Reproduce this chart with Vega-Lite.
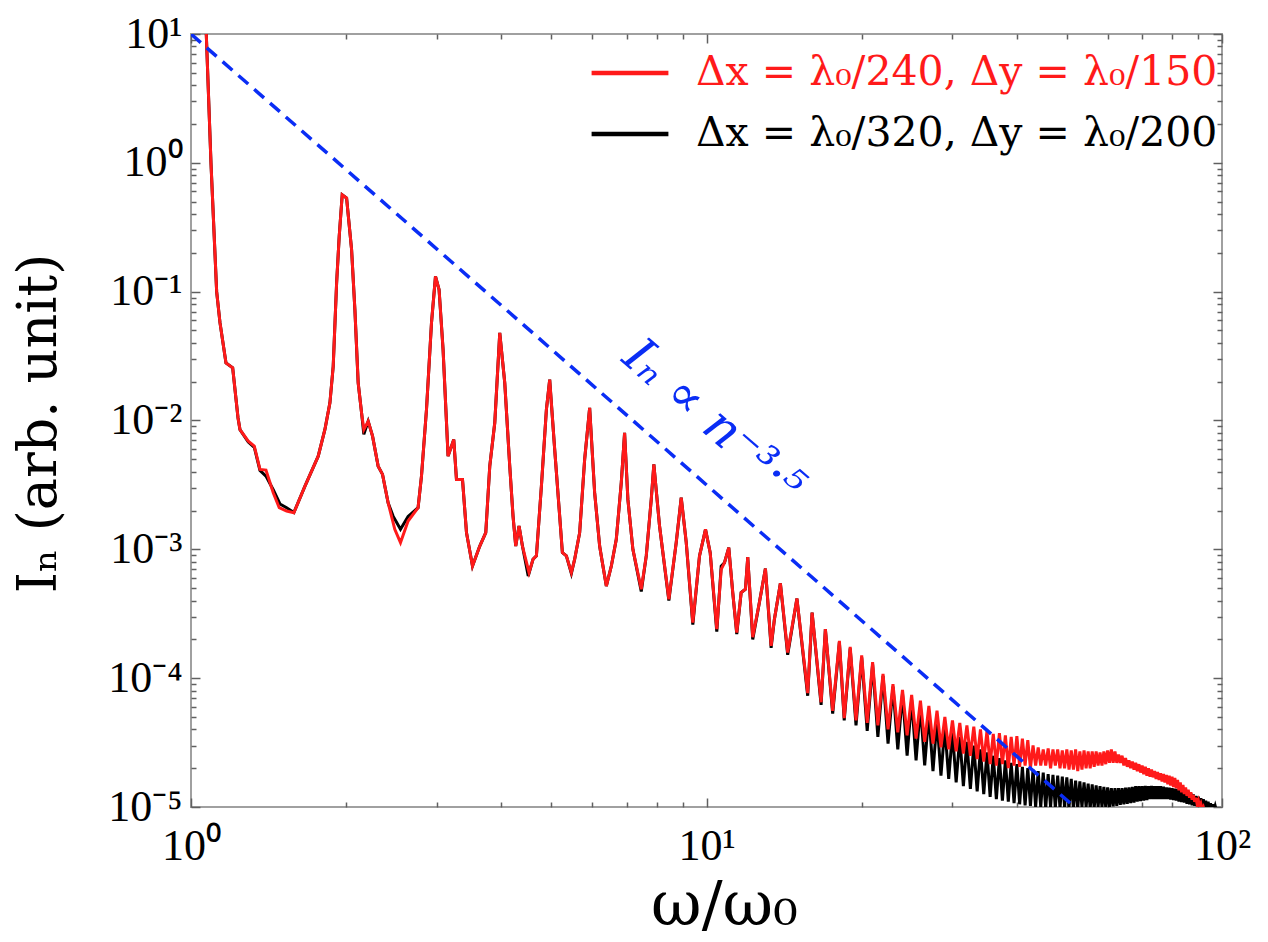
{
"$schema":"https://vega.github.io/schema/vega-lite/v6.json",
"width":1031,"height":773,
"autosize":{"type":"none"},
"padding":{"left":191,"top":34,"right":46,"bottom":135},
"background":"white",
"config":{"font":"Liberation Serif","view":{"stroke":"#a0a0a0","strokeWidth":2},"axis":{"grid":false,"domain":false}},
"datasets":{
"guide":[{"x":1,"y":10},{"x":51.79,"y":0.00001}],
"note":[{"label":"Iₙ ∝ n⁻³·⁵","x":10.3,"y":0.0098}],
"spectra":[
{"run":"coarse","x":1.06,"y":30},{"run":"coarse","x":1.0933,"y":1.0},{"run":"coarse","x":1.1214,"y":0.1},{"run":"coarse","x":1.1382,"y":0.0575},{"run":"coarse","x":1.1691,"y":0.028},{"run":"coarse","x":1.2046,"y":0.0256},{"run":"coarse","x":1.2336,"y":0.0105},{"run":"coarse","x":1.2445,"y":0.0085},{"run":"coarse","x":1.2915,"y":0.006911},{"run":"coarse","x":1.3266,"y":0.006325},{"run":"coarse","x":1.3608,"y":0.004172},{"run":"coarse","x":1.3977,"y":0.004119},{"run":"coarse","x":1.4439,"y":0.002751},{"run":"coarse","x":1.483,"y":0.002105},{"run":"coarse","x":1.5328,"y":0.001981},{"run":"coarse","x":1.5834,"y":0.001925},{"run":"coarse","x":1.6637,"y":0.003095},{"run":"coarse","x":1.7651,"y":0.005289},{"run":"coarse","x":1.8188,"y":0.008516},{"run":"coarse","x":1.8598,"y":0.01372},{"run":"coarse","x":1.8874,"y":0.02636},{"run":"coarse","x":1.9163,"y":0.1168},{"run":"coarse","x":1.9387,"y":0.2684},{"run":"coarse","x":1.9648,"y":0.5648},{"run":"coarse","x":2.0037,"y":0.5327},{"run":"coarse","x":2.0489,"y":0.2117},{"run":"coarse","x":2.0793,"y":0.07253},{"run":"coarse","x":2.1101,"y":0.0196},{"run":"coarse","x":2.1423,"y":0.01147},{"run":"coarse","x":2.164,"y":0.0085},{"run":"coarse","x":2.2064,"y":0.009876},{"run":"coarse","x":2.25,"y":0.007557},{"run":"coarse","x":2.3069,"y":0.004423},{"run":"coarse","x":2.3526,"y":0.003815},{"run":"coarse","x":2.412,"y":0.002301},{"run":"coarse","x":2.485,"y":0.001429},{"run":"coarse","x":2.5491,"y":0.001127},{"run":"coarse","x":2.6371,"y":0.001657},{"run":"coarse","x":2.7574,"y":0.002105},{"run":"coarse","x":2.7996,"y":0.0037},{"run":"coarse","x":2.863,"y":0.01217},{"run":"coarse","x":2.9276,"y":0.05718},{"run":"coarse","x":2.9803,"y":0.1315},{"run":"coarse","x":3.0286,"y":0.1036},{"run":"coarse","x":3.0832,"y":0.03552},{"run":"coarse","x":3.1527,"y":0.005289},{"run":"coarse","x":3.234,"y":0.007123},{"run":"coarse","x":3.2732,"y":0.003488},{"run":"coarse","x":3.3625,"y":0.003488},{"run":"coarse","x":3.4231,"y":0.001347},{"run":"coarse","x":3.516,"y":0.000742},{"run":"coarse","x":3.6324,"y":0.001061},{"run":"coarse","x":3.731,"y":0.001347},{"run":"coarse","x":3.7982,"y":0.004423},{"run":"coarse","x":3.8839,"y":0.0096},{"run":"coarse","x":3.9715,"y":0.04783},{"run":"coarse","x":4.0611,"y":0.0196},{"run":"coarse","x":4.1526,"y":0.004423},{"run":"coarse","x":4.2141,"y":0.001811},{"run":"coarse","x":4.2652,"y":0.001061},{"run":"coarse","x":4.3285,"y":0.001516},{"run":"coarse","x":4.3947,"y":0.001061},{"run":"coarse","x":4.526,"y":0.00066},{"run":"coarse","x":4.6075,"y":0.000838},{"run":"coarse","x":4.6778,"y":0.000889},{"run":"coarse","x":4.7833,"y":0.003095},{"run":"coarse","x":4.8912,"y":0.01217},{"run":"coarse","x":4.9638,"y":0.02078},{"run":"coarse","x":5.0758,"y":0.005958},{"run":"coarse","x":5.1903,"y":0.001811},{"run":"coarse","x":5.2531,"y":0.000943},{"run":"coarse","x":5.3477,"y":0.000889},{"run":"coarse","x":5.4683,"y":0.00066},{"run":"coarse","x":5.5495,"y":0.000838},{"run":"coarse","x":5.6747,"y":0.001347},{"run":"coarse","x":5.8028,"y":0.004985},{"run":"coarse","x":5.9337,"y":0.01254},{"run":"coarse","x":6.0676,"y":0.002751},{"run":"coarse","x":6.2045,"y":0.001061},{"run":"coarse","x":6.2966,"y":0.000742},{"run":"coarse","x":6.3928,"y":0.000519},{"run":"coarse","x":6.5372,"y":0.000742},{"run":"coarse","x":6.6834,"y":0.001195},{"run":"coarse","x":6.8342,"y":0.003289},{"run":"coarse","x":6.9358,"y":0.008031},{"run":"coarse","x":7.0388,"y":0.002441},{"run":"coarse","x":7.1976,"y":0.001},{"run":"coarse","x":7.4723,"y":0.00049},{"run":"coarse","x":7.6409,"y":0.000889},{"run":"coarse","x":7.8132,"y":0.002441},{"run":"coarse","x":7.9044,"y":0.004559},{"run":"coarse","x":8.108,"y":0.001516},{"run":"coarse","x":8.4521,"y":0.00041},{"run":"coarse","x":8.7357,"y":0.001133},{"run":"coarse","x":8.9327,"y":0.002517},{"run":"coarse","x":9.1342,"y":0.001133},{"run":"coarse","x":9.4071,"y":0.00027},{"run":"coarse","x":9.6924,"y":0.000889},{"run":"coarse","x":9.9554,"y":0.001429},{"run":"coarse","x":10.166,"y":0.000943},{"run":"coarse","x":10.47,"y":0.00024},{"run":"coarse","x":10.678,"y":0.0007},{"run":"coarse","x":10.836,"y":0.000788},{"run":"coarse","x":11.046,"y":0.00103},{"run":"coarse","x":11.244,"y":0.000462},{"run":"coarse","x":11.447,"y":0.000226},{"run":"coarse","x":11.674,"y":0.000462},{"run":"coarse","x":11.9,"y":0.00049},{"run":"coarse","x":12.023,"y":0.00087},{"run":"coarse","x":12.294,"y":0.000208},{"run":"coarse","x":12.667,"y":0.000388},{"run":"coarse","x":13.011,"y":0.000709},{"run":"coarse","x":13.346,"y":0.000178},{"run":"coarse","x":13.544,"y":0.000287},{"run":"coarse","x":13.911,"y":0.000545},{"run":"coarse","x":14.371,"y":0.000158},{"run":"coarse","x":14.976,"y":0.000415},{"run":"coarse","x":15.715,"y":0.0000765},{"run":"coarse","x":16.027,"y":0.000323},{"run":"coarse","x":16.684,"y":0.000065},{"run":"coarse","x":17.006,"y":0.00024},{"run":"coarse","x":17.57,"y":0.0000558},{"run":"coarse","x":18.105,"y":0.000195},
{"run":"coarse","x":18.5,"y":4.9e-5},{"run":"coarse","x":19,"y":1.75e-4},{"run":"coarse","x":19.5,"y":4.7e-5},{"run":"coarse","x":20,"y":1.5e-4},{"run":"coarse","x":20.5,"y":4.5e-5},{"run":"coarse","x":21,"y":1.33e-4},{"run":"coarse","x":21.5,"y":4.3e-5},{"run":"coarse","x":22,"y":1.08e-4},{"run":"coarse","x":22.5,"y":4.0e-5},{"run":"coarse","x":23,"y":9.0e-5},{"run":"coarse","x":23.5,"y":3.8e-5},{"run":"coarse","x":24,"y":8.1e-5},{"run":"coarse","x":24.5,"y":3.6e-5},{"run":"coarse","x":25,"y":7.4e-5},{"run":"coarse","x":25.5,"y":3.4e-5},{"run":"coarse","x":26,"y":6.7e-5},{"run":"coarse","x":26.5,"y":3.2e-5},{"run":"coarse","x":27,"y":6.1e-5},{"run":"coarse","x":27.5,"y":3.1e-5},{"run":"coarse","x":28,"y":5.6e-5},{"run":"coarse","x":28.5,"y":2.9e-5},{"run":"coarse","x":29,"y":5.0e-5},{"run":"coarse","x":29.5,"y":2.8e-5},{"run":"coarse","x":30,"y":4.7e-5},{"run":"coarse","x":30.5,"y":2.7e-5},{"run":"coarse","x":31,"y":4.5e-5},{"run":"coarse","x":31.5,"y":2.6e-5},{"run":"coarse","x":32,"y":4.3e-5},{"run":"coarse","x":32.5,"y":2.5e-5},{"run":"coarse","x":33,"y":4.2e-5},{"run":"coarse","x":33.5,"y":2.35e-5},{"run":"coarse","x":34,"y":4.0e-5},{"run":"coarse","x":34.5,"y":2.25e-5},{"run":"coarse","x":35,"y":3.9e-5},{"run":"coarse","x":35.5,"y":2.15e-5},{"run":"coarse","x":36,"y":3.7e-5},{"run":"coarse","x":36.5,"y":2.1e-5},{"run":"coarse","x":37,"y":3.75e-5},{"run":"coarse","x":37.5,"y":2.15e-5},{"run":"coarse","x":38,"y":3.6e-5},{"run":"coarse","x":38.5,"y":2.0e-5},{"run":"coarse","x":39,"y":3.5e-5},{"run":"coarse","x":39.5,"y":2.1e-5},{"run":"coarse","x":40,"y":3.55e-5},{"run":"coarse","x":40.5,"y":2.05e-5},{"run":"coarse","x":41,"y":3.4e-5},{"run":"coarse","x":41.5,"y":2.1e-5},{"run":"coarse","x":42,"y":3.3e-5},{"run":"coarse","x":42.5,"y":2.0e-5},{"run":"coarse","x":43,"y":3.0e-5},{"run":"coarse","x":43.5,"y":2.1e-5},{"run":"coarse","x":44,"y":2.9e-5},{"run":"coarse","x":44.5,"y":2.1e-5},{"run":"coarse","x":45,"y":2.8e-5},{"run":"coarse","x":45.5,"y":2.1e-5},{"run":"coarse","x":46,"y":2.85e-5},{"run":"coarse","x":46.5,"y":2.0e-5},{"run":"coarse","x":47,"y":2.8e-5},{"run":"coarse","x":47.5,"y":2.1e-5},{"run":"coarse","x":48,"y":2.8e-5},{"run":"coarse","x":48.5,"y":2.0e-5},{"run":"coarse","x":49,"y":2.75e-5},{"run":"coarse","x":49.5,"y":2.0e-5},{"run":"coarse","x":50,"y":2.8e-5},{"run":"coarse","x":50.5,"y":1.95e-5},{"run":"coarse","x":51,"y":2.75e-5},{"run":"coarse","x":51.5,"y":1.95e-5},{"run":"coarse","x":52,"y":2.8e-5},{"run":"coarse","x":52.5,"y":1.9e-5},{"run":"coarse","x":53,"y":2.7e-5},{"run":"coarse","x":53.5,"y":1.95e-5},{"run":"coarse","x":54,"y":2.75e-5},{"run":"coarse","x":54.5,"y":2.0e-5},{"run":"coarse","x":55,"y":2.7e-5},{"run":"coarse","x":55.5,"y":2.0e-5},{"run":"coarse","x":56,"y":2.7e-5},{"run":"coarse","x":56.5,"y":2.05e-5},{"run":"coarse","x":57,"y":2.7e-5},{"run":"coarse","x":57.5,"y":2.1e-5},{"run":"coarse","x":58,"y":2.65e-5},{"run":"coarse","x":58.5,"y":2.1e-5},{"run":"coarse","x":59,"y":2.7e-5},{"run":"coarse","x":59.5,"y":2.15e-5},{"run":"coarse","x":60,"y":2.75e-5},{"run":"coarse","x":60.5,"y":2.2e-5},{"run":"coarse","x":61,"y":2.8e-5},{"run":"coarse","x":61.5,"y":2.2e-5},{"run":"coarse","x":62,"y":2.7e-5},{"run":"coarse","x":62.5,"y":2.2e-5},{"run":"coarse","x":63,"y":2.55e-5},{"run":"coarse","x":63.5,"y":2.2e-5},{"run":"coarse","x":64,"y":2.5e-5},{"run":"coarse","x":64.5,"y":2.1e-5},{"run":"coarse","x":65,"y":2.4e-5},{"run":"coarse","x":65.5,"y":2.05e-5},{"run":"coarse","x":66,"y":2.3e-5},{"run":"coarse","x":66.5,"y":2.0e-5},{"run":"coarse","x":67,"y":2.25e-5},{"run":"coarse","x":67.5,"y":1.95e-5},{"run":"coarse","x":68,"y":2.2e-5},{"run":"coarse","x":68.5,"y":1.9e-5},{"run":"coarse","x":69,"y":2.15e-5},{"run":"coarse","x":69.5,"y":1.85e-5},{"run":"coarse","x":70,"y":2.1e-5},{"run":"coarse","x":70.5,"y":1.8e-5},{"run":"coarse","x":71,"y":2.05e-5},{"run":"coarse","x":71.5,"y":1.75e-5},{"run":"coarse","x":72,"y":2.0e-5},{"run":"coarse","x":72.5,"y":1.72e-5},{"run":"coarse","x":73,"y":1.95e-5},{"run":"coarse","x":73.5,"y":1.7e-5},{"run":"coarse","x":74,"y":1.9e-5},{"run":"coarse","x":74.5,"y":1.65e-5},{"run":"coarse","x":75,"y":1.87e-5},{"run":"coarse","x":75.5,"y":1.62e-5},{"run":"coarse","x":76,"y":1.83e-5},{"run":"coarse","x":76.5,"y":1.58e-5},{"run":"coarse","x":77,"y":1.8e-5},{"run":"coarse","x":77.5,"y":1.55e-5},{"run":"coarse","x":78,"y":1.77e-5},{"run":"coarse","x":78.5,"y":1.5e-5},{"run":"coarse","x":79,"y":1.75e-5},{"run":"coarse","x":79.5,"y":1.47e-5},{"run":"coarse","x":80,"y":1.72e-5},{"run":"coarse","x":80.5,"y":1.43e-5},{"run":"coarse","x":81,"y":1.68e-5},{"run":"coarse","x":81.5,"y":1.4e-5},{"run":"coarse","x":82,"y":1.62e-5},{"run":"coarse","x":82.5,"y":1.35e-5},{"run":"coarse","x":83,"y":1.55e-5},{"run":"coarse","x":83.5,"y":1.3e-5},{"run":"coarse","x":84,"y":1.48e-5},{"run":"coarse","x":84.5,"y":1.26e-5},{"run":"coarse","x":85,"y":1.42e-5},{"run":"coarse","x":85.5,"y":1.22e-5},{"run":"coarse","x":86,"y":1.36e-5},{"run":"coarse","x":86.5,"y":1.18e-5},{"run":"coarse","x":87,"y":1.3e-5},{"run":"coarse","x":87.5,"y":1.14e-5},{"run":"coarse","x":88,"y":1.24e-5},{"run":"coarse","x":88.5,"y":1.1e-5},{"run":"coarse","x":89,"y":1.18e-5},{"run":"coarse","x":89.5,"y":1.05e-5},{"run":"coarse","x":90,"y":1.12e-5},{"run":"coarse","x":90.5,"y":1.0e-5},{"run":"coarse","x":91,"y":1.06e-5},{"run":"coarse","x":91.5,"y":0.96e-5},{"run":"coarse","x":92,"y":1.0e-5},{"run":"coarse","x":92.5,"y":0.93e-5},{"run":"coarse","x":93,"y":0.95e-5},{"run":"coarse","x":93.5,"y":0.9e-5},
{"run":"fine","x":1.06,"y":30},{"run":"fine","x":1.0933,"y":1.0},{"run":"fine","x":1.1214,"y":0.1},{"run":"fine","x":1.1382,"y":0.0575},{"run":"fine","x":1.1691,"y":0.028},{"run":"fine","x":1.2046,"y":0.0256},{"run":"fine","x":1.2336,"y":0.0105},{"run":"fine","x":1.2445,"y":0.0085},{"run":"fine","x":1.2915,"y":0.0068},{"run":"fine","x":1.3266,"y":0.0062},{"run":"fine","x":1.3608,"y":0.0041},{"run":"fine","x":1.3977,"y":0.0037},{"run":"fine","x":1.4439,"y":0.0029},{"run":"fine","x":1.488,"y":0.00225},{"run":"fine","x":1.5328,"y":0.0021},{"run":"fine","x":1.5834,"y":0.00193},{"run":"fine","x":1.6637,"y":0.003095},{"run":"fine","x":1.7651,"y":0.005289},{"run":"fine","x":1.8188,"y":0.008516},{"run":"fine","x":1.8598,"y":0.01372},{"run":"fine","x":1.8874,"y":0.02636},{"run":"fine","x":1.9163,"y":0.1168},{"run":"fine","x":1.9387,"y":0.2684},{"run":"fine","x":1.9648,"y":0.5648},{"run":"fine","x":2.0037,"y":0.5327},{"run":"fine","x":2.0489,"y":0.2117},{"run":"fine","x":2.0793,"y":0.07253},{"run":"fine","x":2.1101,"y":0.0196},{"run":"fine","x":2.1423,"y":0.01147},{"run":"fine","x":2.164,"y":0.0078},{"run":"fine","x":2.2064,"y":0.009876},{"run":"fine","x":2.25,"y":0.007557},{"run":"fine","x":2.3069,"y":0.004423},{"run":"fine","x":2.3526,"y":0.003815},{"run":"fine","x":2.412,"y":0.0023},{"run":"fine","x":2.4664,"y":0.00181},{"run":"fine","x":2.5491,"y":0.00143},{"run":"fine","x":2.6371,"y":0.0018},{"run":"fine","x":2.7574,"y":0.002105},{"run":"fine","x":2.7996,"y":0.0037},{"run":"fine","x":2.863,"y":0.01217},{"run":"fine","x":2.9276,"y":0.05718},{"run":"fine","x":2.9803,"y":0.1315},{"run":"fine","x":3.0286,"y":0.1036},{"run":"fine","x":3.0832,"y":0.03552},{"run":"fine","x":3.1527,"y":0.005289},{"run":"fine","x":3.234,"y":0.007123},{"run":"fine","x":3.2732,"y":0.003488},{"run":"fine","x":3.3625,"y":0.003488},{"run":"fine","x":3.4231,"y":0.001347},{"run":"fine","x":3.516,"y":0.000742},{"run":"fine","x":3.6324,"y":0.001061},{"run":"fine","x":3.731,"y":0.001347},{"run":"fine","x":3.7982,"y":0.004423},{"run":"fine","x":3.8839,"y":0.0096},{"run":"fine","x":3.9715,"y":0.04783},{"run":"fine","x":4.0611,"y":0.0196},{"run":"fine","x":4.1526,"y":0.004423},{"run":"fine","x":4.2141,"y":0.001811},{"run":"fine","x":4.2652,"y":0.001061},{"run":"fine","x":4.3285,"y":0.001516},{"run":"fine","x":4.3947,"y":0.001061},{"run":"fine","x":4.51,"y":0.00062},{"run":"fine","x":4.6075,"y":0.000838},{"run":"fine","x":4.6778,"y":0.000889},{"run":"fine","x":4.7833,"y":0.003095},{"run":"fine","x":4.8912,"y":0.01217},{"run":"fine","x":4.9638,"y":0.02078},{"run":"fine","x":5.0758,"y":0.005958},{"run":"fine","x":5.1903,"y":0.001811},{"run":"fine","x":5.2531,"y":0.000943},{"run":"fine","x":5.3477,"y":0.000889},{"run":"fine","x":5.4683,"y":0.00065},{"run":"fine","x":5.5495,"y":0.000838},{"run":"fine","x":5.6747,"y":0.001347},{"run":"fine","x":5.8028,"y":0.004985},{"run":"fine","x":5.9337,"y":0.01254},{"run":"fine","x":6.0676,"y":0.002751},{"run":"fine","x":6.2045,"y":0.001061},{"run":"fine","x":6.2966,"y":0.000742},{"run":"fine","x":6.3928,"y":0.000519},{"run":"fine","x":6.5372,"y":0.000742},{"run":"fine","x":6.6834,"y":0.001195},{"run":"fine","x":6.8342,"y":0.003289},{"run":"fine","x":6.9358,"y":0.008031},{"run":"fine","x":7.0388,"y":0.002441},{"run":"fine","x":7.1976,"y":0.001},{"run":"fine","x":7.4723,"y":0.00047},{"run":"fine","x":7.6409,"y":0.000889},{"run":"fine","x":7.8132,"y":0.002441},{"run":"fine","x":7.9044,"y":0.004559},{"run":"fine","x":8.108,"y":0.001516},{"run":"fine","x":8.4521,"y":0.0004},{"run":"fine","x":8.7357,"y":0.001133},{"run":"fine","x":8.9327,"y":0.002517},{"run":"fine","x":9.1342,"y":0.001133},{"run":"fine","x":9.4071,"y":0.00026},{"run":"fine","x":9.6924,"y":0.000889},{"run":"fine","x":9.9554,"y":0.001429},{"run":"fine","x":10.166,"y":0.000943},{"run":"fine","x":10.47,"y":0.00023},{"run":"fine","x":10.678,"y":0.00074},{"run":"fine","x":10.836,"y":0.000788},{"run":"fine","x":11.046,"y":0.00103},{"run":"fine","x":11.244,"y":0.000462},{"run":"fine","x":11.447,"y":0.00022},{"run":"fine","x":11.674,"y":0.000462},{"run":"fine","x":11.9,"y":0.00049},{"run":"fine","x":12.023,"y":0.00087},{"run":"fine","x":12.294,"y":0.0002},{"run":"fine","x":12.667,"y":0.000388},{"run":"fine","x":13.011,"y":0.000709},{"run":"fine","x":13.346,"y":0.000172},{"run":"fine","x":13.544,"y":0.000287},{"run":"fine","x":13.911,"y":0.000545},{"run":"fine","x":14.371,"y":0.000152},{"run":"fine","x":14.976,"y":0.000415},{"run":"fine","x":15.715,"y":0.000073},{"run":"fine","x":16.027,"y":0.000323},{"run":"fine","x":16.684,"y":0.000062},{"run":"fine","x":17.006,"y":0.00024},{"run":"fine","x":17.57,"y":0.000053},{"run":"fine","x":18.105,"y":0.00019},
{"run":"fine","x":18.5,"y":4.7e-5},{"run":"fine","x":19,"y":1.7e-4},{"run":"fine","x":19.5,"y":4.3e-5},{"run":"fine","x":20,"y":1.45e-4},{"run":"fine","x":20.5,"y":3.9e-5},{"run":"fine","x":21,"y":1.28e-4},{"run":"fine","x":21.5,"y":3.5e-5},{"run":"fine","x":22,"y":1.04e-4},{"run":"fine","x":22.5,"y":3.1e-5},{"run":"fine","x":23,"y":8.6e-5},{"run":"fine","x":23.5,"y":2.8e-5},{"run":"fine","x":24,"y":7.6e-5},{"run":"fine","x":24.5,"y":2.5e-5},{"run":"fine","x":25,"y":6.8e-5},{"run":"fine","x":25.5,"y":2.3e-5},{"run":"fine","x":26,"y":6.0e-5},{"run":"fine","x":26.5,"y":2.1e-5},{"run":"fine","x":27,"y":5.3e-5},{"run":"fine","x":27.5,"y":1.9e-5},{"run":"fine","x":28,"y":4.7e-5},{"run":"fine","x":28.5,"y":1.75e-5},{"run":"fine","x":29,"y":4.2e-5},{"run":"fine","x":29.5,"y":1.65e-5},{"run":"fine","x":30,"y":3.8e-5},{"run":"fine","x":30.5,"y":1.55e-5},{"run":"fine","x":31,"y":3.5e-5},{"run":"fine","x":31.5,"y":1.45e-5},{"run":"fine","x":32,"y":3.2e-5},{"run":"fine","x":32.5,"y":1.38e-5},{"run":"fine","x":33,"y":3.0e-5},{"run":"fine","x":33.5,"y":1.32e-5},{"run":"fine","x":34,"y":2.8e-5},{"run":"fine","x":34.5,"y":1.26e-5},{"run":"fine","x":35,"y":2.65e-5},{"run":"fine","x":35.5,"y":1.2e-5},{"run":"fine","x":36,"y":2.5e-5},{"run":"fine","x":36.5,"y":1.15e-5},{"run":"fine","x":37,"y":2.4e-5},{"run":"fine","x":37.5,"y":1.12e-5},{"run":"fine","x":38,"y":2.3e-5},{"run":"fine","x":38.5,"y":1.1e-5},{"run":"fine","x":39,"y":2.2e-5},{"run":"fine","x":39.5,"y":1.07e-5},{"run":"fine","x":40,"y":2.15e-5},{"run":"fine","x":40.5,"y":1.05e-5},{"run":"fine","x":41,"y":2.05e-5},{"run":"fine","x":41.5,"y":1.03e-5},{"run":"fine","x":42,"y":2.0e-5},{"run":"fine","x":42.5,"y":1.02e-5},{"run":"fine","x":43,"y":1.95e-5},{"run":"fine","x":43.5,"y":1.0e-5},{"run":"fine","x":44,"y":1.9e-5},{"run":"fine","x":44.5,"y":1.0e-5},{"run":"fine","x":45,"y":1.85e-5},{"run":"fine","x":45.5,"y":0.97e-5},{"run":"fine","x":46,"y":1.8e-5},{"run":"fine","x":46.5,"y":1.0e-5},{"run":"fine","x":47,"y":1.78e-5},{"run":"fine","x":47.5,"y":0.98e-5},{"run":"fine","x":48,"y":1.75e-5},{"run":"fine","x":48.5,"y":0.98e-5},{"run":"fine","x":49,"y":1.72e-5},{"run":"fine","x":49.5,"y":1.0e-5},{"run":"fine","x":50,"y":1.7e-5},{"run":"fine","x":50.5,"y":1.0e-5},{"run":"fine","x":51,"y":1.65e-5},{"run":"fine","x":51.5,"y":0.96e-5},{"run":"fine","x":52,"y":1.6e-5},{"run":"fine","x":52.5,"y":0.97e-5},{"run":"fine","x":53,"y":1.58e-5},{"run":"fine","x":53.5,"y":1.0e-5},{"run":"fine","x":54,"y":1.55e-5},{"run":"fine","x":54.5,"y":1.0e-5},{"run":"fine","x":55,"y":1.52e-5},{"run":"fine","x":55.5,"y":0.97e-5},{"run":"fine","x":56,"y":1.5e-5},{"run":"fine","x":56.5,"y":0.98e-5},{"run":"fine","x":57,"y":1.47e-5},{"run":"fine","x":57.5,"y":1.0e-5},{"run":"fine","x":58,"y":1.45e-5},{"run":"fine","x":58.5,"y":1.0e-5},{"run":"fine","x":59,"y":1.43e-5},{"run":"fine","x":59.5,"y":0.99e-5},{"run":"fine","x":60,"y":1.42e-5},{"run":"fine","x":60.5,"y":1.0e-5},{"run":"fine","x":61,"y":1.4e-5},{"run":"fine","x":61.5,"y":1.01e-5},{"run":"fine","x":62,"y":1.4e-5},{"run":"fine","x":62.5,"y":1.02e-5},{"run":"fine","x":63,"y":1.4e-5},{"run":"fine","x":63.5,"y":1.04e-5},{"run":"fine","x":64,"y":1.4e-5},{"run":"fine","x":64.5,"y":1.05e-5},{"run":"fine","x":65,"y":1.41e-5},{"run":"fine","x":65.5,"y":1.06e-5},{"run":"fine","x":66,"y":1.42e-5},{"run":"fine","x":66.5,"y":1.07e-5},{"run":"fine","x":67,"y":1.43e-5},{"run":"fine","x":67.5,"y":1.08e-5},{"run":"fine","x":68,"y":1.45e-5},{"run":"fine","x":68.5,"y":1.1e-5},{"run":"fine","x":69,"y":1.45e-5},{"run":"fine","x":69.5,"y":1.11e-5},{"run":"fine","x":70,"y":1.45e-5},{"run":"fine","x":70.5,"y":1.12e-5},{"run":"fine","x":71,"y":1.46e-5},{"run":"fine","x":71.5,"y":1.13e-5},{"run":"fine","x":72,"y":1.45e-5},{"run":"fine","x":72.5,"y":1.15e-5},{"run":"fine","x":73,"y":1.46e-5},{"run":"fine","x":73.5,"y":1.15e-5},{"run":"fine","x":74,"y":1.45e-5},{"run":"fine","x":74.5,"y":1.15e-5},{"run":"fine","x":75,"y":1.45e-5},{"run":"fine","x":75.5,"y":1.15e-5},{"run":"fine","x":76,"y":1.45e-5},{"run":"fine","x":76.5,"y":1.15e-5},{"run":"fine","x":77,"y":1.44e-5},{"run":"fine","x":77.5,"y":1.15e-5},{"run":"fine","x":78,"y":1.42e-5},{"run":"fine","x":78.5,"y":1.15e-5},{"run":"fine","x":79,"y":1.41e-5},{"run":"fine","x":79.5,"y":1.14e-5},{"run":"fine","x":80,"y":1.4e-5},{"run":"fine","x":80.5,"y":1.13e-5},{"run":"fine","x":81,"y":1.39e-5},{"run":"fine","x":81.5,"y":1.12e-5},{"run":"fine","x":82,"y":1.38e-5},{"run":"fine","x":82.5,"y":1.1e-5},{"run":"fine","x":83,"y":1.36e-5},{"run":"fine","x":83.5,"y":1.09e-5},{"run":"fine","x":84,"y":1.35e-5},{"run":"fine","x":84.5,"y":1.08e-5},{"run":"fine","x":85,"y":1.33e-5},{"run":"fine","x":85.5,"y":1.06e-5},{"run":"fine","x":86,"y":1.3e-5},{"run":"fine","x":86.5,"y":1.05e-5},{"run":"fine","x":87,"y":1.28e-5},{"run":"fine","x":87.5,"y":1.03e-5},{"run":"fine","x":88,"y":1.25e-5},{"run":"fine","x":88.5,"y":1.02e-5},{"run":"fine","x":89,"y":1.22e-5},{"run":"fine","x":89.5,"y":1.01e-5},{"run":"fine","x":90,"y":1.2e-5},{"run":"fine","x":90.5,"y":1.0e-5},{"run":"fine","x":91,"y":1.17e-5},{"run":"fine","x":91.5,"y":0.99e-5},{"run":"fine","x":92,"y":1.15e-5},{"run":"fine","x":92.5,"y":0.98e-5},{"run":"fine","x":93,"y":1.12e-5},{"run":"fine","x":93.5,"y":0.97e-5},{"run":"fine","x":94,"y":1.1e-5},{"run":"fine","x":94.5,"y":0.96e-5},{"run":"fine","x":95,"y":1.07e-5},{"run":"fine","x":95.5,"y":0.95e-5},{"run":"fine","x":96,"y":1.05e-5},{"run":"fine","x":96.5,"y":0.95e-5},{"run":"fine","x":97,"y":1.02e-5},{"run":"fine","x":97.5,"y":0.94e-5}
]},
"layer":[
{"data":{"name":"spectra"},
 "transform":[{"filter":"datum.run == 'fine'"}],
 "mark":{"type":"line","strokeWidth":3,"clip":true},
 "encoding":{
  "x":{"field":"x","type":"quantitative","scale":{"type":"log","domain":[1,100],"nice":false},
   "axis":{"orient":"bottom","values":[1,2,3,4,5,6,7,8,9,10,20,30,40,50,60,70,80,90,100],
    "labelExpr":"abs(log(datum.value)/LN10 - round(log(datum.value)/LN10)) < 0.001 ? '10' + replace(replace(replace(replace(replace(replace(replace(replace('' + round(log(datum.value)/LN10), '-', '⁻'), '0', '⁰'), '1', '¹'), '2', '²'), '3', '³'), '4', '⁴'), '5', '⁵'), '6', '⁶') : ''",
    "tickSize":{"condition":{"test":"abs(log(datum.value)/LN10 - round(log(datum.value)/LN10)) < 0.001","value":-9},"value":-5},
    "tickColor":"#606060","tickWidth":1.5,
    "labelFont":"Liberation Serif","labelFontSize":44,"labelColor":"#000000","labelBaseline":"alphabetic","labelPadding":61,"labelFlush":false,"labelOverlap":false,"labelBound":false,
    "title":"ω/ω₀","titleFont":"DejaVu Serif","titleFontSize":62,"titleFontWeight":"normal","titleColor":"#000000","titleX":533,"titleY":117,"titleAlign":"center","titleBaseline":"alphabetic"}},
  "y":{"field":"y","type":"quantitative","scale":{"type":"log","domain":[0.00001,10],"nice":false},
   "axis":{"orient":"left","values":[0.00001,0.00002,0.00003,0.00004,0.00005,0.00006,0.00007,0.00008,0.00009,0.0001,0.0002,0.0003,0.0004,0.0005,0.0006,0.0007,0.0008,0.0009,0.001,0.002,0.003,0.004,0.005,0.006,0.007,0.008,0.009,0.01,0.02,0.03,0.04,0.05,0.06,0.07,0.08,0.09,0.1,0.2,0.3,0.4,0.5,0.6,0.7,0.8,0.9,1,2,3,4,5,6,7,8,9,10],
    "labelExpr":"abs(log(datum.value)/LN10 - round(log(datum.value)/LN10)) < 0.001 ? '10' + replace(replace(replace(replace(replace(replace(replace(replace('' + round(log(datum.value)/LN10), '-', '⁻'), '0', '⁰'), '1', '¹'), '2', '²'), '3', '³'), '4', '⁴'), '5', '⁵'), '6', '⁶') : ''",
    "tickSize":{"condition":{"test":"abs(log(datum.value)/LN10 - round(log(datum.value)/LN10)) < 0.001","value":-9},"value":-5},
    "tickColor":"#606060","tickWidth":1.5,
    "labelFont":"Liberation Serif","labelFontSize":44,"labelColor":"#000000","labelAlign":"right","labelBaseline":"middle","labelPadding":18,"labelFlush":false,"labelOverlap":false,"labelBound":false,
    "title":"Iₙ (arb. unit)","titleFont":"DejaVu Serif","titleFontSize":54,"titleFontWeight":"normal","titleColor":"#000000","titleX":-136,"titleY":389,"titleAlign":"center","titleBaseline":"alphabetic","titleAngle":270}},
  "color":{"field":"run","type":"nominal","scale":{"domain":["coarse","fine"],"range":["#ff1a1a","#000000"]},
   "legend":{"orient":"none","legendX":398,"legendY":-2,"title":null,"symbolType":"stroke","symbolSize":5900,"symbolStrokeWidth":4.5,"labelFont":"DejaVu Serif","labelFontSize":41,"labelOffset":25,"rowPadding":-18,"padding":0,"labelLimit":0,
    "labelExpr":"datum.value == 'coarse' ? 'Δx = λ₀/240, Δy = λ₀/150' : 'Δx = λ₀/320, Δy = λ₀/200'",
    "labelColor":{"expr":"datum.value == 'coarse' ? '#ff1a1a' : '#000000'"}}}
 }},
{"data":{"name":"spectra"},
 "transform":[{"filter":"datum.run == 'coarse'"}],
 "mark":{"type":"line","strokeWidth":3,"clip":true},
 "encoding":{
  "x":{"field":"x","type":"quantitative","scale":{"type":"log","domain":[1,100],"nice":false},
   "axis":{"orient":"top","values":[1,2,3,4,5,6,7,8,9,10,20,30,40,50,60,70,80,90,100],"labels":false,"title":null,
    "tickSize":{"condition":{"test":"abs(log(datum.value)/LN10 - round(log(datum.value)/LN10)) < 0.001","value":-9},"value":-5},
    "tickColor":"#606060","tickWidth":1.5}},
  "y":{"field":"y","type":"quantitative","scale":{"type":"log","domain":[0.00001,10],"nice":false},
   "axis":{"orient":"right","values":[0.00001,0.00002,0.00003,0.00004,0.00005,0.00006,0.00007,0.00008,0.00009,0.0001,0.0002,0.0003,0.0004,0.0005,0.0006,0.0007,0.0008,0.0009,0.001,0.002,0.003,0.004,0.005,0.006,0.007,0.008,0.009,0.01,0.02,0.03,0.04,0.05,0.06,0.07,0.08,0.09,0.1,0.2,0.3,0.4,0.5,0.6,0.7,0.8,0.9,1,2,3,4,5,6,7,8,9,10],"labels":false,"title":null,
    "tickSize":{"condition":{"test":"abs(log(datum.value)/LN10 - round(log(datum.value)/LN10)) < 0.001","value":-9},"value":-5},
    "tickColor":"#606060","tickWidth":1.5}},
  "color":{"field":"run","type":"nominal","scale":{"domain":["coarse","fine"],"range":["#ff1a1a","#000000"]},
   "legend":{"orient":"none","legendX":398,"legendY":-2,"title":null,"symbolType":"stroke","symbolSize":5900,"symbolStrokeWidth":4.5,"labelFont":"DejaVu Serif","labelFontSize":41,"labelOffset":25,"rowPadding":-18,"padding":0,"labelLimit":0,
    "labelExpr":"datum.value == 'coarse' ? 'Δx = λ₀/240, Δy = λ₀/150' : 'Δx = λ₀/320, Δy = λ₀/200'",
    "labelColor":{"expr":"datum.value == 'coarse' ? '#ff1a1a' : '#000000'"}}}
 }},
{"data":{"name":"guide"},
 "mark":{"type":"line","strokeWidth":3.5,"strokeDash":[13,8],"color":"#0a2df5","clip":true},
 "encoding":{
  "x":{"field":"x","type":"quantitative","scale":{"type":"log","domain":[1,100],"nice":false},"axis":null},
  "y":{"field":"y","type":"quantitative","scale":{"type":"log","domain":[0.00001,10],"nice":false},"axis":null}
 }},
{"data":{"name":"note"},
 "mark":{"type":"text","angle":41,"fontSize":50,"font":"DejaVu Serif","fontStyle":"italic","color":"#0a2df5","align":"center","baseline":"middle"},
 "encoding":{
  "x":{"field":"x","type":"quantitative","scale":{"type":"log","domain":[1,100],"nice":false},"axis":null},
  "y":{"field":"y","type":"quantitative","scale":{"type":"log","domain":[0.00001,10],"nice":false},"axis":null},
  "text":{"field":"label"}
 }}
],
"resolve":{"axis":{"x":"independent","y":"independent"}}
}
